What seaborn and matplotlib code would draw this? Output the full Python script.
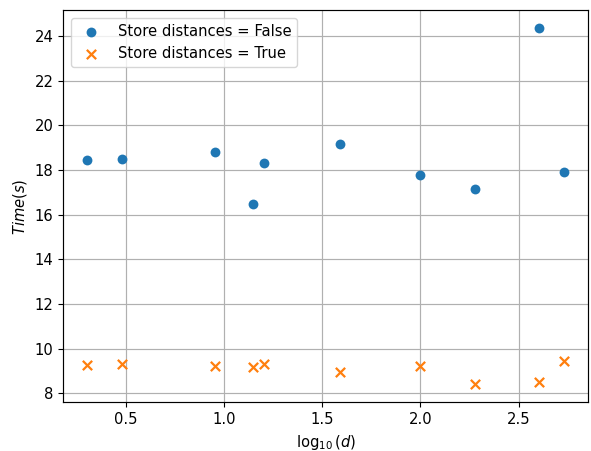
"""Run time with and without stored distances, against log10(d)."""
import matplotlib
matplotlib.use('Agg')
import matplotlib.pyplot as plt
import numpy as np
import pandas as pd
import seaborn as sns

# dimensions tested and measured times in seconds
dims = [2, 3, 9, 14, 16, 39, 100, 190, 400, 540]
time_no_store = [18.46, 18.50, 18.80, 16.46, 18.31, 19.16, 17.76, 17.15, 24.36, 17.90]
time_store = [9.27, 9.32, 9.21, 9.17, 9.33, 8.95, 9.20, 8.39, 8.51, 9.44]

log_d = np.log10(dims)
no_store = pd.DataFrame({'logd': log_d, 'time': time_no_store})
store = pd.DataFrame({'logd': log_d, 'time': time_store})

plt.rcParams.update({'font.size': 10.6, 'axes.linewidth': 0.85})
figure, axes = plt.subplots(figsize=(5.91, 4.51), dpi=100)
figure.subplots_adjust(left=0.107, right=0.995, top=0.977, bottom=0.108)

sns.scatterplot(data=no_store, x='logd', y='time', ax=axes, color='#1f77b4',
                marker='o', s=50, linewidth=0, label='Store distances = False')
sns.scatterplot(data=store, x='logd', y='time', ax=axes, color='#ff7f0e',
                marker='x', s=45, linewidth=1.6, label='Store distances = True')

axes.grid(True, color='#b0b0b0', linewidth=0.85)
axes.set_axisbelow(True)
axes.set_xlabel(r'$\log_{10}(d)$')
axes.set_ylabel(r'$Time(s)$')
axes.legend(loc='upper left')

figure.savefig('out.png')
